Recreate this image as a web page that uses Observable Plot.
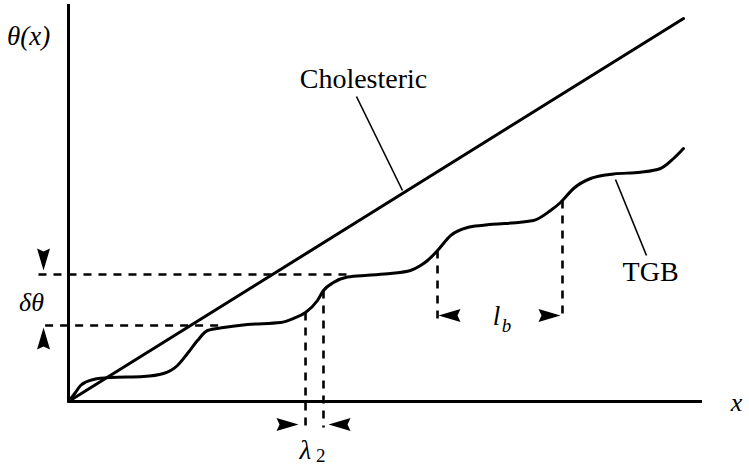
<!DOCTYPE html>
<html>
<head>
<meta charset="utf-8">
<script src="https://cdn.jsdelivr.net/npm/d3@7"></script>
<script src="https://cdn.jsdelivr.net/npm/@observablehq/plot@0.6"></script>
<style>
  html, body { margin: 0; padding: 0; background: #fff; }
  svg text { font-family: "Liberation Serif", "DejaVu Serif", serif !important; }
</style>
</head>
<body>
<script>
// Units: x in multiples of the TGB block length l_b, theta in multiples of the step δθ.
const xMax = 5.138;
const thetaMax = 7.842;

// Cholesteric: straight line
const cholX = [0, 5.0];
const cholTheta = [0, 7.584];

// TGB: smoothed staircase
const tgbX = [0, 0.057, 0.098, 0.203, 0.341, 0.610, 0.772, 0.886, 0.967, 1.049,
  1.130, 1.260, 1.455, 1.724, 1.829, 1.927, 2.024, 2.073, 2.154, 2.268,
  2.431, 2.618, 2.780, 2.862, 2.919, 3.000, 3.106, 3.244, 3.374, 3.780,
  3.919, 4.000, 4.106, 4.244, 4.431, 4.650, 4.813, 4.919, 5.000];
const tgbTheta = [0, 0.178, 0.317, 0.436, 0.475, 0.495, 0.554, 0.713, 0.950, 1.208,
  1.406, 1.465, 1.525, 1.564, 1.644, 1.762, 2.000, 2.198, 2.356, 2.465,
  2.500, 2.535, 2.594, 2.693, 2.792, 2.990, 3.287, 3.446, 3.490, 3.584,
  3.782, 3.941, 4.218, 4.416, 4.505, 4.540, 4.614, 4.812, 5.010];

// Dashed guide segments
const guideX1 = [-0.244, -0.19, 1.927, 2.073, 3.000, 4.016];
const guideY1 = [2.515, 1.505, 1.762, 2.198, 2.990, 3.980];
const guideX2 = [2.293, 1.260, 1.927, 2.073, 3.000, 4.016];
const guideY2 = [2.515, 1.505, -0.515, -0.515, 1.604, 1.604];

// Arrowheads (tip positions and direction, degrees clockwise from "up")
const arrowX = [-0.203, -0.203, 1.870, 2.114, 3.008, 4.000];
const arrowY = [2.594, 1.465, -0.455, -0.455, 1.703, 1.703];
const arrowDir = [180, 0, 90, -90, -90, 90];

// Pointer lines from labels to curves
const ptrX1 = [2.341, 4.447];
const ptrY1 = [6.040, 4.396];
const ptrX2 = [2.715, 4.699];
const ptrY2 = [4.178, 2.891];

// Labels
const uprightText = ["Cholesteric", "TGB"];
const uprightX = [2.398, 4.732];
const uprightY = [6.376, 2.554];

const italicText = ["θ(x)", "δθ", "λ", "l", "x"];
const italicX = [-0.325, -0.301, 1.925, 3.480, 5.431];
const italicY = [7.228, 1.960, -0.96, 1.683, -0.02];
const italicSize = [27, 26, 27, 27, 26];

const subText = ["2", "b"];
const subX = [2.050, 3.561];
const subY = [-1.07, 1.505];
const subItalic = [false, true];

const axisX = [0, 0, xMax];
const axisTheta = [thetaMax, 0, 0];

const arrowHead = {
  draw(ctx) {
    ctx.moveTo(0, 0);
    ctx.lineTo(-6.5, 22);
    ctx.lineTo(0, 19);
    ctx.lineTo(6.5, 22);
    ctx.closePath();
  }
};

const idx = n => d3.range(n);
const font = "Liberation Serif";

const chart = Plot.plot({
  width: 749,
  height: 467,
  marginLeft: 68,
  marginRight: 49,
  marginTop: 5,
  marginBottom: 66,
  x: {domain: [0, xMax], axis: null},
  y: {domain: [0, thetaMax], axis: null},
  style: {background: "#fff", color: "#000"},
  marks: [
    Plot.line(idx(axisX.length), {x: i => axisX[i], y: i => axisTheta[i], stroke: "#000", strokeWidth: 3, strokeLinejoin: "miter", strokeLinecap: "square"}),
    Plot.link(idx(guideX1.length), {x1: i => guideX1[i], y1: i => guideY1[i], x2: i => guideX2[i], y2: i => guideY2[i], stroke: "#000", strokeWidth: 2.6, strokeDasharray: "8,7"}),
    Plot.line(idx(cholX.length), {x: i => cholX[i], y: i => cholTheta[i], stroke: "#000", strokeWidth: 3}),
    Plot.line(idx(tgbX.length), {x: i => tgbX[i], y: i => tgbTheta[i], stroke: "#000", strokeWidth: 3, curve: "monotone-x"}),
    Plot.link(idx(ptrX1.length), {x1: i => ptrX1[i], y1: i => ptrY1[i], x2: i => ptrX2[i], y2: i => ptrY2[i], stroke: "#000", strokeWidth: 1.6}),
    Plot.dot(idx(arrowX.length), {x: i => arrowX[i], y: i => arrowY[i], rotate: i => arrowDir[i], symbol: arrowHead, fill: "#000", stroke: "none"}),
    Plot.text(idx(uprightText.length), {x: i => uprightX[i], y: i => uprightY[i], text: i => uprightText[i], fontSize: 28, fontFamily: font, fill: "#000"}),
    Plot.text(idx(italicText.length), {x: i => italicX[i], y: i => italicY[i], text: i => italicText[i], fontSize: i => italicSize[i], fontFamily: font, fontStyle: "italic", fill: "#000"}),
    Plot.text(idx(subText.length).filter(i => !subItalic[i]), {x: i => subX[i], y: i => subY[i], text: i => subText[i], fontSize: 19, fontFamily: font, fill: "#000"}),
    Plot.text(idx(subText.length).filter(i => subItalic[i]), {x: i => subX[i], y: i => subY[i], text: i => subText[i], fontSize: 19, fontFamily: font, fontStyle: "italic", fill: "#000"})
  ]
});

document.body.append(chart);
</script>
</body>
</html>
